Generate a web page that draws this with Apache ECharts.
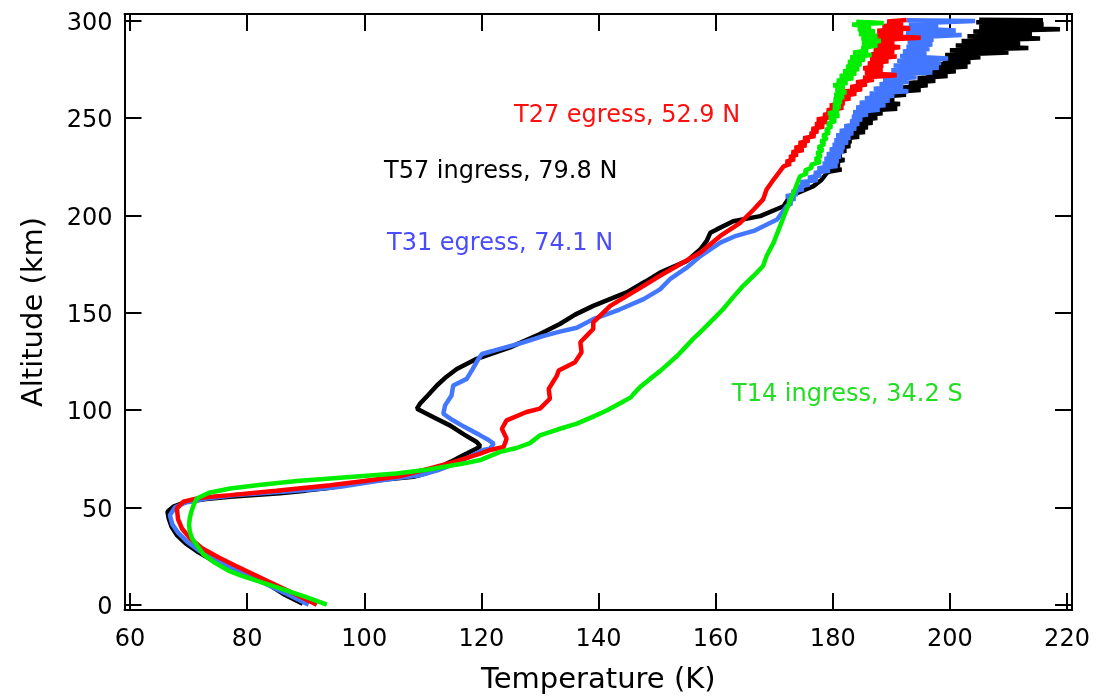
<!DOCTYPE html>
<html>
<head>
<meta charset="utf-8">
<script src="https://cdn.jsdelivr.net/npm/echarts@6/dist/echarts.min.js"></script>
<style>html,body{margin:0;padding:0;background:#fff}#c{width:1096px;height:700px}</style>
</head>
<body>
<div id="c"></div>
<script>
// ---- data: [temperature K, altitude km] ----
var xTicks = [60, 80, 100, 120, 140, 160, 180, 200, 220];
var yTicks = [0, 50, 100, 150, 200, 250, 300];

var t57 = [[89.5,0.5],[86.5,5],[83.9,10],[80.5,14.5],[77.1,18.8],[74,23],[71.4,27.5],[69.5,31.5],[68.0,35.8],[67.1,40],[66.6,44.4],[66.4,47.8],[67.4,50.4],[69.7,52.9],[73,54.3],[77.1,55.5],[85.6,57.2],[90,58.6],[94.2,60.1],[99.9,63.2],[104,64.5],[108.4,65.7],[110.5,67.5],[112.4,70],[114.8,73.5],[116.9,76.8],[119.2,80.2],[119.8,81.5],[119.2,83.6],[117,87.5],[114.7,92],[112,96],[109,100.7],[109.5,103.2],[111,108],[112.4,112.6],[114,117],[115.8,121.1],[119.2,126.3],[124.9,132.2],[130,139],[133.4,144.2],[136,149],[139.1,153.5],[144.8,160.4],[148,166],[150.5,170.6],[155.1,176.6],[157.4,182.6],[158.5,187],[159.1,191.1],[160.2,192.8],[163,197],[167.6,199.6],[171.6,204.7],[172.7,209.8],[174.4,212],[176.7,215],[178,218],[179.0,221.8],
[179.5,222.5],[181.5,223.5],[178.8,224.7],[181.2,226],[179.2,227.2],[182,228.4],[179.5,229.6],[181.5,230.8],[180,232],[182.3,233.2],[180.2,234.4],[183,235.6],[180.6,236.8],[183.2,238],[181,239.2],[184.5,240.4],[181.8,241.6],[185.5,242.8],[182.5,244],[186,245.2],[183,246.4],[186.8,247.6],[184,248.8],[187.6,250],[184.4,251.2],[188.5,252.4],[185,253.6],[191,254.8],[185.5,256],[191.5,257.2],[186.5,258.4],[190.5,259.6],[187.6,260.8],[192.5,262],[189.5,263.2],[195,264.4],[191.5,265.6],[196.2,266.8],[193,268],[197.5,269.2],[194.5,270.4],[199.6,271.6],[196,272.8],[201,274],[197,275.2],[203,276.4],[198,277.6],[203.5,278.8],[198.8,280],[205.2,281.2],[199.2,282.4],[210,283.6],[200,284.8],[213.4,286],[201,287.2],[212,288.4],[202,289.6],[215.4,290.8],[203,292],[214,293.2],[204,294.4],[218.8,295.6],[205,296.8],[216,298],[204.5,299.2],[215.9,300.2],[205,300.5]];

var t31 = [[90.5,0],[87.5,4.5],[84,9.5],[80.5,14.5],[77.3,19],[74.3,23.5],[71.7,28],[69.7,32.5],[68.2,37],[67.2,41.5],[66.8,46],[67.7,50],[69.5,52.5],[73,54.5],[78,56.3],[86,58],[92,59.5],[95.9,60.6],[100.5,62.8],[105,64.8],[109.5,66.5],[112.5,69],[115.5,72.5],[118,76],[120.3,79.5],[121.5,80.2],[122.1,82.8],[121,85],[119.8,87],[117,91.5],[115,95],[113.5,98.1],[113.8,102.4],[114.9,107.5],[115.2,112.6],[117.5,116],[118.5,121],[119.5,126.3],[120.1,128.8],[123.2,131.4],[127.2,134.8],[130.5,138],[133.4,140.3],[136.3,142.3],[139.1,146.7],[143.5,151.5],[147.7,157],[150.5,162],[152.2,167.2],[155,173],[157.4,179.1],[160.8,186],[163.5,189.5],[166.5,192],[170.5,197.9],[172.1,204.7],
[173,206.2],[172.3,207.4],[173.6,208.6],[172,209.8],[174,211],[173,212.2],[175,213.4],[173.8,214.6],[176,215.8],[174.5,217],[177.4,218.2],[175.8,219.4],[178,220.6],[176.8,221.8],[179.5,223],[177.4,224.2],[180.8,225.4],[178.3,226.6],[181,227.8],[178.6,229],[181.4,230.2],[179,231.4],[181.8,232.6],[179.5,233.8],[182,235],[180,236.2],[182.6,237.4],[180.3,238.6],[183,239.8],[180.6,241],[183.5,242.2],[181.2,243.4],[184,244.6],[182,245.8],[184.5,247],[183,248.2],[185,249.4],[183.3,250.6],[186,251.8],[183.5,253],[188,254.2],[184,255.4],[189,256.6],[184.6,257.8],[189.7,259],[185.5,260.2],[190.5,261.4],[186.3,262.6],[192.9,263.8],[187,265],[192,266.2],[188,267.4],[193,268.6],[188.6,269.8],[194.3,271],[189,272.2],[197,273.4],[190,274.6],[198.1,275.8],[190.4,277],[198.5,278.2],[191,279.4],[199.7,280.6],[191.5,281.8],[196,283],[192,284.2],[196.5,285.4],[192.6,286.6],[197,287.8],[192.8,289],[197.2,290.2],[193.2,291.4],[202,292.6],[192.5,293.8],[201,295],[192,296.2],[198,297.4],[193,298.6],[204.3,299.8],[192.6,300.2]];

var t27 = [[91.9,0],[88.5,5],[85,10],[81.5,15],[78,20],[75,24.5],[72.3,29],[70.3,34],[68.9,39],[68.2,44],[68,49.5],[69.1,52.9],[72,55],[77.1,56.3],[85,58.5],[94.2,61.4],[100,63.5],[106,66],[111.2,70],[115.5,73.5],[119.8,77.6],[121.5,79.5],[123.8,81],[124.3,85.3],[123.5,90.4],[124.3,94.7],[127.7,99],[130,100.7],[131.7,105.8],[131.5,110.9],[132.9,117.7],[133.2,120.3],[136,124.6],[137.1,129.7],[136.9,134.8],[138,138.2],[139.1,141.6],[139.1,145],[142,153.5],[144.5,158],[147.7,163.8],[150.5,169],[153.4,174],[157.4,180.9],[160.8,189.4],[164.2,196.2],[166.5,203],[168.1,208.2],[168.7,213.3],[169.9,218.4],[171.6,225.2],
[172.8,226.4],[172,227.6],[173.5,228.8],[172.6,230],[174,231.2],[173,232.4],[175,233.6],[173.5,234.8],[175.5,236],[174.2,237.2],[176,238.4],[175,239.6],[177,240.8],[176.1,242],[177.5,243.2],[176.4,244.4],[178.5,245.6],[177,246.8],[179,248],[177.3,249.2],[179.5,250.4],[178.4,251.6],[180.1,252.8],[179,254],[181.8,255.2],[179.5,256.4],[182,257.6],[180.5,258.8],[183,260],[181.3,261.2],[184,262.4],[182,263.6],[185,264.8],[183,266],[185.8,267.2],[184,268.4],[187,269.6],[185.2,270.8],[190.9,272],[185.5,273.2],[188.5,274.4],[185.2,275.6],[188.6,276.8],[186,278],[189.5,279.2],[186.4,280.4],[190.9,281.6],[186.6,282.8],[190.5,284],[187,285.2],[191.5,286.4],[187.2,287.6],[190.5,288.8],[187,290],[195,291.2],[187.5,292.4],[192,293.6],[187.6,294.8],[193.2,296],[188.5,297.2],[192,298.4],[189.3,299.6],[192.6,300.3]];

var t14 = [[93.6,0],[90,4],[86,8],[82,12],[79,15],[77.1,17.1],[74.5,21.5],[72.5,26],[71.4,30.7],[70.6,34],[70.2,37.6],[70.1,41],[70.2,44.4],[70.5,48],[70.9,51.5],[71.4,54.6],[73.5,57.5],[77.1,59.7],[82,61.5],[88.5,63.5],[97,65.5],[105.5,67.4],[111,69.5],[116.9,72.5],[120,74.5],[123.2,78.5],[126,80.5],[128.3,83],[130,87],[133,90],[136.3,93],[139,96.5],[141.4,99.8],[144,104],[145.5,106.5],[146,108.3],[147.1,111.8],[148.8,116],[150.5,120],[152,124],[153.5,128],[154.8,132.2],[156.3,137],[157.9,141.6],[159.6,146.7],[161.3,151.9],[163,158],[164.7,163.8],[166.5,169],[168.1,174],[168.7,179.1],[169.9,186],[171,194.5],[172.1,203],[173.3,211.5],[174.4,220.1],
[175.6,221.5],[175.2,223],[176.4,224.5],[176.3,226],[177.9,227.5],[177,229],[178,230.5],[177.3,232],[178.3,233.5],[177.5,235],[178.6,236.5],[178,238],[179,239.5],[178.3,241],[179.4,242.5],[178.8,244],[179.8,245.5],[179.1,247],[180.5,248.5],[179.4,250],[181.1,251.2],[179.2,252.4],[181,253.6],[180.1,254.8],[181.3,256],[180.1,257.2],[181.5,258.4],[180.2,259.6],[181.9,260.8],[180.3,262],[182.3,263.2],[180.5,264.4],[182,265.6],[180.1,266.8],[182.5,268],[180.7,269.2],[183.5,270.4],[181.2,271.6],[184,272.8],[181.8,274],[184.5,275.2],[182.3,276.4],[184.9,277.6],[182.6,278.8],[185.5,280],[183,281.2],[186.6,282.4],[183.5,283.6],[186,284.8],[184.9,286],[187.6,287.2],[185,288.4],[188.2,289.6],[184.9,290.8],[187.6,292],[184.5,293.2],[187.2,294.4],[184.3,295.6],[186.5,296.8],[183.3,298],[188.7,298.8],[184,299.5]];

var labels = [
  {text: 'T27 egress, 52.9 N', x: 514, y: 113, color: '#ff1010'},
  {text: 'T57 ingress, 79.8 N', x: 384, y: 169, color: '#000000'},
  {text: 'T31 egress, 74.1 N', x: 387, y: 241, color: '#4a4aff'},
  {text: 'T14 ingress, 34.2 S', x: 732, y: 392, color: '#22dd22'}
];

var FONT = 'DejaVu Sans';
var chart = echarts.init(document.getElementById('c'), null, {renderer: 'canvas'});

function xAxisDef(pos, showLabels) {
  return {
    type: 'value', position: pos, min: 59.06, max: 220.85,
    name: showLabels ? 'Temperature (K)' : '', nameLocation: 'middle', nameGap: 56,
    nameTextStyle: {fontFamily: FONT, fontSize: 29, color: '#000'},
    axisLine: {show: true, onZero: false, lineStyle: {color: '#000', width: 2}},
    axisTick: {show: true, inside: true, length: 17, customValues: xTicks, lineStyle: {color: '#000', width: 2}},
    axisLabel: {show: showLabels, customValues: xTicks, margin: 18, fontFamily: FONT, fontSize: 24, color: '#000'},
    splitLine: {show: false}
  };
}
function yAxisDef(pos, showLabels) {
  return {
    type: 'value', position: pos, min: -2.71, max: 303.43,
    name: showLabels ? 'Altitude (km)' : '', nameLocation: 'middle', nameGap: 76, nameRotate: 90,
    nameTextStyle: {fontFamily: FONT, fontSize: 29, color: '#000'},
    axisLine: {show: true, onZero: false, lineStyle: {color: '#000', width: 2}},
    axisTick: {show: true, inside: true, length: 17, customValues: yTicks, lineStyle: {color: '#000', width: 2}},
    axisLabel: {
      show: showLabels, customValues: yTicks, margin: 12, color: '#000',
      fontFamily: FONT, fontSize: 24,
      formatter: '{a|{value}}',
      rich: {a: {fontFamily: FONT, fontSize: 24, color: '#000', padding: [6, 0, 0, 0]}}
    },
    splitLine: {show: false}
  };
}

function lineSeries(name, data, color) {
  return {
    name: name, type: 'line', data: data, xAxisIndex: 0, yAxisIndex: 0,
    showSymbol: false, symbol: 'none', smooth: false, animation: false,
    lineStyle: {color: color, width: 4.5}, clip: false
  };
}

chart.setOption({
  animation: false,
  backgroundColor: '#fff',
  grid: {left: 124.5, right: 24, top: 14, bottom: 88, containLabel: false},
  xAxis: [xAxisDef('bottom', true), xAxisDef('top', false)],
  yAxis: [yAxisDef('left', true), yAxisDef('right', false)],
  series: [
    lineSeries('T57 ingress, 79.8 N', t57, '#000000'),
    lineSeries('T31 egress, 74.1 N', t31, '#4477ff'),
    lineSeries('T27 egress, 52.9 N', t27, '#ff0000'),
    lineSeries('T14 ingress, 34.2 S', t14, '#00ee00')
  ],
  graphic: labels.map(function (l) {
    return {
      type: 'text', left: l.x, top: l.y - 9,
      style: {text: l.text, fill: l.color, font: '24px "' + FONT + '"'}
    };
  })
});
</script>
</body>
</html>
